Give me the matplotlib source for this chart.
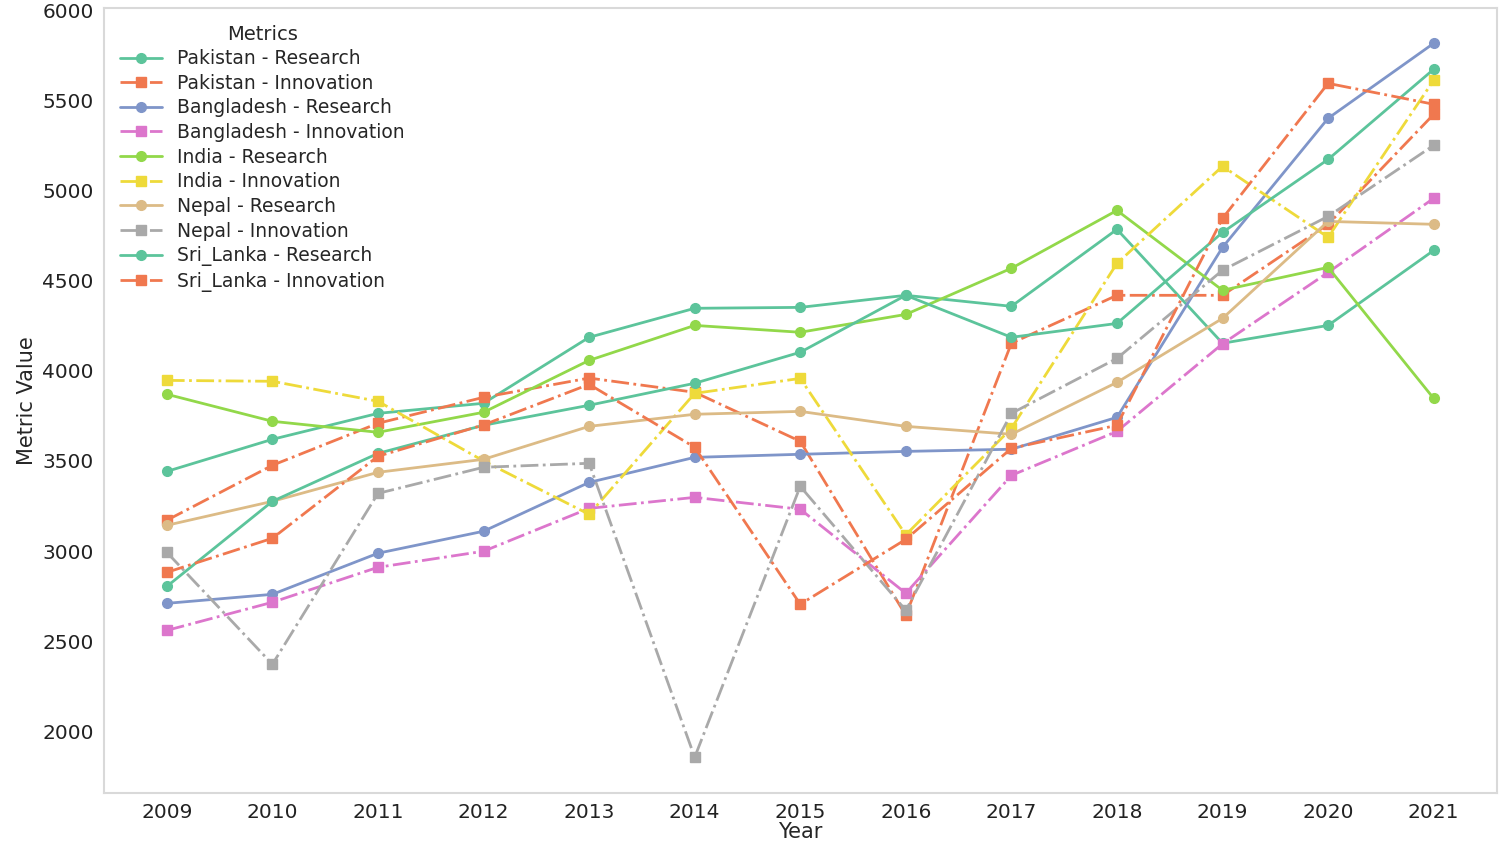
import matplotlib
matplotlib.use("Agg")
import matplotlib.pyplot as plt
import seaborn as sns

# data
years = list(range(2009, 2022))

pakistan_research = [3442, 3620, 3764, 3820, 4186, 4347, 4352, 4419, 4358, 4785, 4153, 4252, 4668]
pakistan_innovation = [3171, 3476, 3709, 3853, 3960, 3881, 3609, 2644, 4153, 4419, 4419, 4813, 5423]
bangladesh_research = [2710, 2760, 2988, 3110, 3381, 3520, 3537, 3553, 3565, 3742, 4685, 5401, 5817]
bangladesh_innovation = [2560, 2716, 2910, 2999, 3237, 3298, 3232, 2766, 3420, 3664, 4150, 4546, 4957]
india_research = [3870, 3720, 3659, 3770, 4058, 4252, 4214, 4313, 4569, 4890, 4447, 4574, 3847]
india_innovation = [3947, 3942, 3831, 3500, 3204, 3875, 3958, 3090, 3681, 4596, 5135, 4741, 5612]
nepal_research = [3143, 3276, 3437, 3509, 3692, 3759, 3775, 3692, 3648, 3936, 4291, 4829, 4813]
nepal_innovation = [2993, 2372, 3320, 3465, 3487, 1856, 3359, 2671, 3764, 4069, 4558, 4857, 5251]
srilanka_research = [2804, 3276, 3542, 3698, 3809, 3931, 4103, 4419, 4186, 4263, 4768, 5173, 5673]
srilanka_innovation = [2882, 3071, 3526, 3700, 3925, 3576, 2705, 3065, 3570, 3698, 4846, 5595, 5479]

series = [
    ("Pakistan - Research", pakistan_research),
    ("Pakistan - Innovation", pakistan_innovation),
    ("Bangladesh - Research", bangladesh_research),
    ("Bangladesh - Innovation", bangladesh_innovation),
    ("India - Research", india_research),
    ("India - Innovation", india_innovation),
    ("Nepal - Research", nepal_research),
    ("Nepal - Innovation", nepal_innovation),
    ("Sri_Lanka - Research", srilanka_research),
    ("Sri_Lanka - Innovation", srilanka_innovation),
]

sns.set_style("white")
plt.rcParams['font.family'] = ['DejaVu Sans']
# Set2-like colours, a bit more saturated as in the reference
palette = ['#5cc49b', '#f0784f', '#7f95c9', '#dc76cc',
           '#92d84a', '#eeda3a', '#dcbb86', '#a9a9a9']

fig, ax = plt.subplots(figsize=(15, 8.49), dpi=100)
fig.subplots_adjust(left=0.069, right=0.998, top=0.991, bottom=0.066)

for i, (name, vals) in enumerate(series):
    color = palette[i % 8]
    if "Research" in name:
        ax.plot(years, vals, color=color, linestyle='-', marker='o',
                linewidth=2, markersize=7, label=name)
    else:
        ax.plot(years, vals, color=color, linestyle='-.', marker='s',
                linewidth=2, markersize=7, label=name)

ax.set_xticks(years)
ax.tick_params(axis='both', labelsize=14.5, colors='#222222')
ax.set_xlabel("Year", fontsize=15, labelpad=0)
ax.set_ylabel("Metric Value", fontsize=15)
for sp in ax.spines.values():
    sp.set_color('#d9d9d9')
    sp.set_linewidth(1.5)

leg = ax.legend(title="Metrics", loc='upper left', frameon=False,
                fontsize=13.5, title_fontsize=14, labelspacing=0.3,
                handlelength=2.2)

plt.savefig("out.png", dpi=100)
